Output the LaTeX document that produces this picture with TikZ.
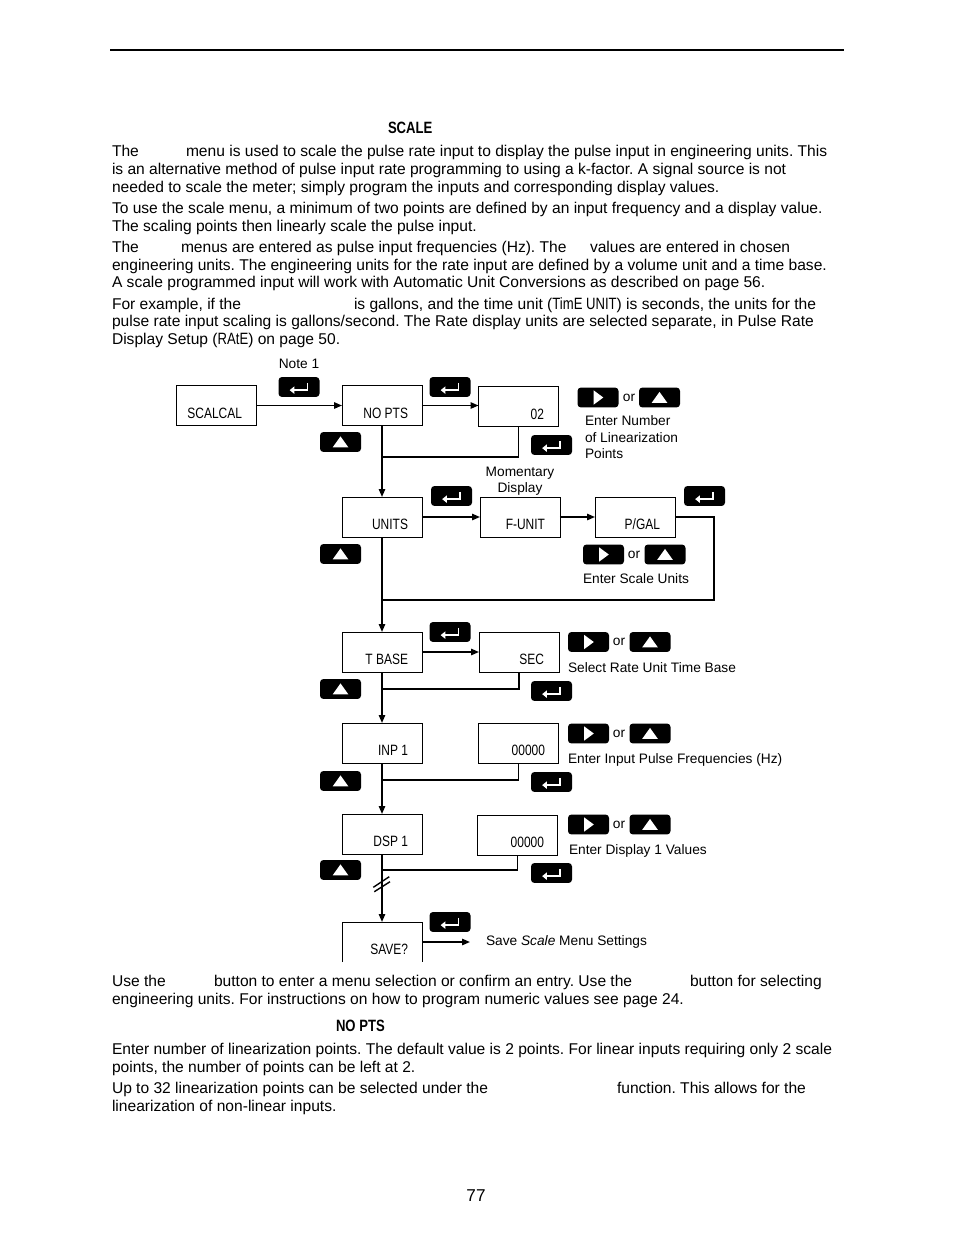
\documentclass[tikz,border=0pt]{standalone}
\usepackage{fontspec}
\setmainfont{Liberation Sans}
\newfontfamily\lcdfont[FakeStretch=0.8]{Liberation Sans}
\usetikzlibrary{arrows.meta}
\frenchspacing
\begin{document}
\begin{tikzpicture}[x=0.6415pt,y=-0.6415pt,
  every node/.style={inner sep=0pt,outer sep=0pt},
  body/.style={anchor=base west,font=\fontsize{10}{12}\selectfont},
  smalltxt/.style={anchor=base west,font=\fontsize{8.8}{10.5}\selectfont},
  lcdbox/.style={draw,line width=0.6pt,minimum width=51.3pt,minimum height=25.7pt},
  lcdtxt/.style={anchor=base east,font=\lcdfont\fontsize{9.6}{11}\selectfont},
  keybtn/.style={fill=black,rounded corners=2.2pt,minimum width=26.3pt,minimum height=12.8pt},
  enterkey/.style={keybtn,path picture={
     \draw[white,line width=1.1pt,sharp corners,-{Triangle[length=3pt,width=4.6pt]}]
       ([shift={(5.5pt,2.6pt)}]path picture bounding box.center) -- ++(0pt,-4.6pt) -- ++(-11.5pt,0pt);}},
  upkey/.style={keybtn,path picture={
     \fill[white,sharp corners] ([shift={(-5pt,-3.4pt)}]path picture bounding box.center) -- ++(10pt,0pt) -- ++(-5pt,7pt) -- cycle;}},
  rightkey/.style={keybtn,path picture={
     \fill[white,sharp corners] ([shift={(-2.8pt,-4.6pt)}]path picture bounding box.center) -- ++(0pt,9.2pt) -- ++(6.2pt,-4.6pt) -- cycle;}},
  conn/.style={line width=1pt},
  arr/.style={conn,-{Triangle[length=5pt,width=4pt]}}
]
\useasboundingbox (0,0) rectangle (954,1235);
\fill[white] (0,0) rectangle (954,1235);

% header rule
\coordinate (r1) at (110,50);
\coordinate (r2) at (844,50);
\draw[line width=1.2pt] (r1) -- (r2);

% heading
\node[anchor=base west,font=\lcdfont\bfseries\fontsize{10.5}{12}\selectfont] (hd) at (388,133) {SCALE};

% top text
\node[body] (l1a) at (112,156.5) {The};
\node[body] (l1b) at (186,156.5) {menu is used to scale the pulse rate input to display the pulse input in engineering units. This};
\node[body] (l2) at (112,174.5) {is an alternative method of pulse input rate programming to using a k-factor. A signal source is not};
\node[body] (l3) at (112,192.5) {needed to scale the meter; simply program the inputs and corresponding display values.};
\node[body] (l4) at (112,213.5) {To use the scale menu, a minimum of two points are defined by an input frequency and a display value.};
\node[body] (l5) at (112,231.5) {The scaling points then linearly scale the pulse input.};
\node[body] (l6a) at (112,252.5) {The};
\node[body] (l6b) at (181,252.5) {menus are entered as pulse input frequencies (Hz). The};
\node[body] (l6c) at (590,252.5) {values are entered in chosen};
\node[body] (l7) at (112,270.5) {engineering units. The engineering units for the rate input are defined by a volume unit and a time base.};
\node[body] (l8) at (112,287.5) {A scale programmed input will work with Automatic Unit Conversions as described on page 56.};
\node[body] (l9a) at (112,309.5) {For example, if the};
\node[body] (l9b) at (354,309.5) {is gallons, and the time unit ({\lcdfont\fontsize{10.5}{12}\selectfont TimE UNIT}) is seconds, the units for the};
\node[body] (l10) at (112,326.5) {pulse rate input scaling is gallons/second. The Rate display units are selected separate, in Pulse Rate};
\node[body] (l11) at (112,344.5) {Display Setup ({\lcdfont\fontsize{10.5}{12}\selectfont RAtE}) on page 50.};

% display boxes
\node[lcdbox] (scalcal) at (216.5,405.5) {};
\node[lcdbox] (nopts) at (382,405.5) {};
\node[lcdbox] (v02) at (518.5,406.5) {};
\node[lcdbox] (units) at (382,517) {};
\node[lcdbox] (funit) at (520,517) {};
\node[lcdbox] (pgal) at (635,517) {};
\node[lcdbox] (tbase) at (382,652) {};
\node[lcdbox] (sec) at (519,652) {};
\node[lcdbox] (inp) at (382,743) {};
\node[lcdbox] (inpv) at (518.5,743) {};
\node[lcdbox] (dsp) at (382,834) {};
\node[lcdbox] (dspv) at (517.5,835) {};
\node[lcdbox,draw=none] (save) at (382,942) {};
\draw[line width=0.6pt] (save.south west) -- (save.north west) -- (save.north east) -- (save.south east);

% display texts
\node[lcdtxt] (t1) at (242,418.5) {SCALCAL};
\node[lcdtxt] (t2) at (408,418.5) {NO PTS};
\node[lcdtxt] (t3) at (544,419.5) {02};
\node[lcdtxt] (t4) at (408,529.5) {UNITS};
\node[lcdtxt] (t5) at (545,529.5) {F-UNIT};
\node[lcdtxt] (t6) at (660,529.5) {P/GAL};
\node[lcdtxt] (t7) at (408,664.5) {T BASE};
\node[lcdtxt] (t8) at (544,664.5) {SEC};
\node[lcdtxt] (t9) at (408,755.5) {INP 1};
\node[lcdtxt] (t10) at (545,755.5) {00000};
\node[lcdtxt] (t11) at (408,846.5) {DSP 1};
\node[lcdtxt] (t12) at (544,847.5) {00000};
\node[lcdtxt] (t13) at (408,954.5) {SAVE?};

% keys
\node[enterkey] (e1) at (299,387) {};
\node[smalltxt,anchor=base] (note) at (299,368.5) {Note 1};
\node[enterkey] (e2) at (450,387) {};
\node[rightkey] (r1k) at (598,397.5) {};
\node[smalltxt,anchor=base] (or1) at (629,401.5) {or};
\node[upkey] (u1) at (659.5,397.5) {};
\node[upkey] (u2) at (340.5,442) {};
\node[enterkey] (e3) at (551.5,445) {};
\node[enterkey] (e4) at (451.5,496) {};
\node[enterkey] (e5) at (704.5,496) {};
\node[upkey] (u3) at (340.5,554) {};
\node[rightkey] (r2k) at (603.5,554.5) {};
\node[smalltxt,anchor=base] (or2) at (634,558.5) {or};
\node[upkey] (u4) at (665,554.5) {};
\node[enterkey] (e6) at (450,632) {};
\node[rightkey] (r3k) at (588.5,642) {};
\node[smalltxt,anchor=base] (or3) at (619,645.5) {or};
\node[upkey] (u5) at (650,642) {};
\node[upkey] (u6) at (340.5,689) {};
\node[enterkey] (e7) at (551.5,691) {};
\node[rightkey] (r4k) at (588.5,733.5) {};
\node[smalltxt,anchor=base] (or4) at (619,737.5) {or};
\node[upkey] (u7) at (650,733.5) {};
\node[upkey] (u8) at (340.5,781) {};
\node[enterkey] (e8) at (551.5,782) {};
\node[rightkey] (r5k) at (588.5,824.5) {};
\node[smalltxt,anchor=base] (or5) at (619,828.5) {or};
\node[upkey] (u9) at (650,824.5) {};
\node[upkey] (u10) at (340.5,870) {};
\node[enterkey] (e9) at (551.5,873) {};
\node[enterkey] (e10) at (450,922) {};

% side labels
\node[smalltxt] (a1) at (585,425.5) {Enter Number};
\node[smalltxt] (a2) at (585,442) {of Linearization};
\node[smalltxt] (a3) at (585,458.5) {Points};
\node[smalltxt,anchor=base] (m1) at (520,476.5) {Momentary};
\node[smalltxt,anchor=base] (m2) at (520,492.5) {Display};
\node[smalltxt] (a4) at (583,583.5) {Enter Scale Units};
\node[smalltxt] (a5) at (568,672.5) {Select Rate Unit Time Base};
\node[smalltxt] (a6) at (568,763.5) {Enter Input Pulse Frequencies (Hz)};
\node[smalltxt] (a7) at (569,854.5) {Enter Display 1 Values};
\node[smalltxt] (a8) at (486,945.5) {Save \textit{Scale} Menu Settings};

% connectors
\draw[arr] (scalcal.east) -- (nopts.west);
\draw[arr] (nopts.east) -- (nopts.east -| v02.west);
\draw[arr] (nopts.south) -- (units.north);
\draw[conn] (v02.south) -- (v02.south |- 0,457) -- (382,457);
\draw[arr] (units.east) -- (funit.west);
\draw[arr] (funit.east) -- (pgal.west);
\draw[conn] (pgal.east) -- (714,517) -- (714,600) -- (382,600);
\draw[arr] (units.south) -- (tbase.north);
\draw[arr] (tbase.east) -- (sec.west);
\draw[conn] (sec.south) -- (sec.south |- 0,689) -- (382,689);
\draw[arr] (tbase.south) -- (inp.north);
\draw[conn] (inpv.south) -- (inpv.south |- 0,780) -- (382,780);
\draw[arr] (inp.south) -- (dsp.north);
\draw[conn] (dspv.south) -- (dspv.south |- 0,870) -- (382,870);
\draw[arr] (dsp.south) -- (save.north);
\draw[line width=0.9pt] (373.3,887.3) -- (389.3,876.7);
\draw[line width=0.9pt] (374.3,891.7) -- (390,881.7);
\coordinate (saveend) at (470,942);
\draw[arr] (save.east) -- (saveend);

% bottom text
\node[body] (b1a) at (112,986.5) {Use the};
\node[body] (b1b) at (214,986.5) {button to enter a menu selection or confirm an entry. Use the};
\node[body] (b1c) at (690,986.5) {button for selecting};
\node[body] (b2) at (112,1004.5) {engineering units. For instructions on how to program numeric values see page 24.};
\node[anchor=base west,font=\lcdfont\bfseries\fontsize{10.5}{12}\selectfont] (b3) at (336,1031.5) {NO PTS};
\node[body] (b4) at (112,1054.5) {Enter number of linearization points. The default value is 2 points. For linear inputs requiring only 2 scale};
\node[body] (b5) at (112,1072.5) {points, the number of points can be left at 2.};
\node[body] (b6a) at (112,1093.5) {Up to 32 linearization points can be selected under the};
\node[body] (b6b) at (617,1093.5) {function. This allows for the};
\node[body] (b7) at (112,1111.5) {linearization of non-linear inputs.};
\node[anchor=base,font=\fontsize{11}{13}\selectfont] (pg) at (476,1201) {77};
\end{tikzpicture}
\end{document}
